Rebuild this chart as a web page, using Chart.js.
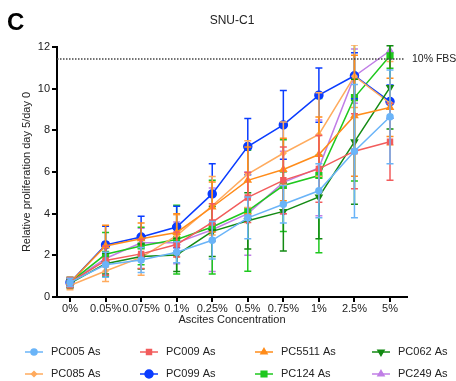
<!DOCTYPE html>
<html lang="en">
<head>
<meta charset="UTF-8">
<title>SNU-C1</title>
<style>
    * { margin: 0; padding: 0; box-sizing: border-box; }
    body { background: #fff; }
    .wrapper { position: relative; width: 456px; height: 381px; }
</style>
</head>
<body>
<div class="wrapper">
    <canvas id="chart" width="456" height="381"></canvas>
</div>

<script src="https://cdn.jsdelivr.net/npm/chart.js@4.4.1/dist/chart.umd.min.js"></script>
<script>
    // x categories
    const concentrations = ["0%", "0.05%", "0.075%", "0.1%", "0.25%", "0.5%", "0.75%", "1%", "2.5%", "5%"];
    const yTicks = [0, 2, 4, 6, 8, 10, 12];
    const fbsLevel = 11.42;

    // mean values
    const pc005 = [0.70, 1.55, 1.78, 2.15, 2.72, 3.80, 4.45, 5.10, 7.00, 8.65];
    const pc009 = [0.70, 1.75, 2.07, 2.52, 3.58, 4.78, 5.60, 6.15, 7.00, 7.45];
    const pc5511 = [0.70, 2.45, 2.80, 3.10, 4.32, 5.60, 6.12, 6.84, 8.70, 9.10];
    const pc062 = [0.65, 1.60, 1.94, 2.02, 3.15, 3.66, 4.11, 4.80, 7.45, 10.06];
    const pc085 = [0.55, 1.25, 1.90, 2.95, 4.38, 5.90, 6.90, 7.80, 10.60, 9.30];
    const pc099 = [0.70, 2.50, 2.88, 3.36, 4.95, 7.22, 8.26, 9.69, 10.62, 9.38];
    const pc124 = [0.70, 2.05, 2.45, 2.76, 3.36, 4.14, 5.35, 5.83, 9.57, 11.58];
    const pc249 = [0.70, 1.85, 2.60, 2.60, 3.23, 4.00, 5.50, 6.20, 10.60, 11.82];

    // error bar half-lengths (SD)
    const pc005Err = [0.20, 0.60, 0.60, 0.50, 0.90, 1.00, 0.90, 1.30, 3.20, 2.25];
    const pc009Err = [0.25, 0.70, 0.70, 0.60, 0.90, 1.20, 1.60, 1.60, 1.80, 1.85];
    const pc5511Err = [0.20, 1.00, 0.75, 0.90, 1.20, 1.60, 1.50, 1.80, 2.90, 1.40];
    const pc062Err = [0.20, 0.50, 0.60, 0.80, 1.20, 1.35, 1.90, 2.00, 3.00, 2.00];
    const pc085Err = [0.20, 0.50, 0.85, 1.00, 1.40, 1.60, 1.50, 2.00, 1.50, 2.00];
    const pc099Err = [0.20, 0.90, 1.00, 1.00, 1.45, 1.35, 1.65, 1.30, 1.10, 0.80];
    const pc124Err = [0.25, 1.05, 0.90, 1.65, 2.25, 2.90, 2.20, 3.70, 4.00, 0.60];
    const pc249Err = [0.20, 0.80, 0.70, 1.00, 2.00, 2.00, 1.50, 2.30, 1.30, 0.40];

    const series = [
        { label: "PC005 As", values: pc005, errors: pc005Err, color: "#6ab4f8", style: "circle", radius: 3 },
        { label: "PC009 As", values: pc009, errors: pc009Err, color: "#f25c5c", style: "rect", radius: 3.5 },
        { label: "PC5511 As", values: pc5511, errors: pc5511Err, color: "#ff8c1a", style: "triangle", radius: 3.5 },
        { label: "PC062 As", values: pc062, errors: pc062Err, color: "#138a13", style: "triangle", radius: 3.5, rotation: 180 },
        { label: "PC085 As", values: pc085, errors: pc085Err, color: "#ffab5e", style: "rectRot", radius: 2.5 },
        { label: "PC099 As", values: pc099, errors: pc099Err, color: "#0a3cff", style: "circle", radius: 4 },
        { label: "PC124 As", values: pc124, errors: pc124Err, color: "#1ec81e", style: "rect", radius: 4 },
        { label: "PC249 As", values: pc249, errors: pc249Err, color: "#c07ee6", style: "triangle", radius: 3.5 }
    ];

    const FONT = '"Liberation Sans", Arial, sans-serif';

    // draws the SD bars of each dataset just before its line
    const errorBars = {
        id: "errorBars",
        beforeDatasetDraw(chart, args) {
            const ds = chart.data.datasets[args.index];
            const y = chart.scales.y;
            const area = chart.chartArea;
            const ctx = chart.ctx;
            ctx.save();
            ctx.beginPath();
            ctx.rect(area.left, area.top - 2, area.right - area.left, area.bottom - area.top + 2);
            ctx.clip();
            ctx.strokeStyle = ds.borderColor;
            ctx.lineWidth = 1.5;
            args.meta.data.forEach((pt, i) => {
                const v = ds.data[i].y, e = ds.errors[i];
                const top = y.getPixelForValue(v + e), bot = y.getPixelForValue(v - e);
                ctx.beginPath();
                ctx.moveTo(pt.x, top); ctx.lineTo(pt.x, bot);
                ctx.moveTo(pt.x - 3.5, top); ctx.lineTo(pt.x + 3.5, top);
                ctx.moveTo(pt.x - 3.5, bot); ctx.lineTo(pt.x + 3.5, bot);
                ctx.stroke();
            });
            ctx.restore();
        }
    };

    // panel letter, title, reference line and the legend
    const extras = {
        id: "extras",
        afterDraw(chart) {
            const ctx = chart.ctx;
            const area = chart.chartArea;
            const yPix = chart.scales.y.getPixelForValue(fbsLevel);
            ctx.save();

            ctx.fillStyle = "#000";
            ctx.font = "bold 24px " + FONT;
            ctx.textBaseline = "alphabetic";
            ctx.fillText("C", 7, 30);

            ctx.font = "12px " + FONT;
            ctx.textAlign = "center";
            ctx.textBaseline = "middle";
            ctx.fillStyle = "#222";
            ctx.fillText("SNU-C1", 232, 21);

            ctx.strokeStyle = "#444";
            ctx.lineWidth = 1.5;
            ctx.setLineDash([1.5, 1.5]);
            ctx.beginPath();
            ctx.moveTo(area.left, yPix);
            ctx.lineTo(404, yPix);
            ctx.stroke();
            ctx.setLineDash([]);

            ctx.font = "10.5px " + FONT;
            ctx.textAlign = "left";
            ctx.fillText("10% FBS", 412, yPix);

            ctx.font = "11px " + FONT;
            const colX = [25, 140, 255, 372];
            const rowY = [352, 374];
            chart.data.datasets.forEach((ds, i) => {
                const x = colX[i % 4], y = rowY[Math.floor(i / 4)];
                ctx.strokeStyle = ds.borderColor;
                ctx.fillStyle = ds.borderColor;
                ctx.lineWidth = 1.5;
                ctx.beginPath();
                ctx.moveTo(x, y);
                ctx.lineTo(x + 18, y);
                ctx.stroke();
                Chart.helpers.drawPoint(ctx, {
                    pointStyle: ds.pointStyle,
                    radius: ds.pointRadius,
                    rotation: ds.pointRotation || 0,
                    borderWidth: 1
                }, x + 9, y);
                ctx.fillStyle = "#222";
                ctx.fillText(ds.label, x + 26, y);
            });
            ctx.restore();
        }
    };

    const datasets = series.map(s => ({
        label: s.label,
        data: s.values.map((v, i) => ({ x: i, y: v })),
        errors: s.errors,
        borderColor: s.color,
        backgroundColor: s.color,
        pointBackgroundColor: s.color,
        pointBorderColor: s.color,
        pointStyle: s.style,
        pointRadius: s.radius,
        pointRotation: s.rotation || 0,
        borderWidth: 1.5,
        tension: 0,
        clip: 4
    }));

    new Chart(document.getElementById("chart"), {
        type: "line",
        data: { datasets: datasets },
        plugins: [errorBars, extras],
        options: {
            responsive: false,
            animation: false,
            layout: { padding: { top: 47, right: 49, bottom: 44, left: 0 } },
            plugins: {
                legend: { display: false },
                tooltip: { enabled: false }
            },
            scales: {
                x: {
                    type: "linear",
                    min: -0.366,
                    max: 9.478,
                    afterBuildTicks: s => { s.ticks = concentrations.map((_, i) => ({ value: i })); },
                    afterFit: s => { s.height = 40; },
                    ticks: {
                        autoSkip: false,
                        maxRotation: 0,
                        padding: 0,
                        color: "#222",
                        font: { family: FONT, size: 11 },
                        callback: v => concentrations[v]
                    },
                    grid: { drawOnChartArea: false, drawTicks: true, tickLength: 5, color: "#000", lineWidth: 2 },
                    border: { color: "#000", width: 2 },
                    title: {
                        display: true,
                        text: "Ascites Concentration",
                        color: "#222",
                        font: { family: FONT, size: 11 },
                        padding: { top: 0, bottom: 10 }
                    }
                },
                y: {
                    min: 0,
                    max: 12,
                    afterBuildTicks: s => { s.ticks = yTicks.map(v => ({ value: v })); },
                    afterFit: s => { s.width = 57; },
                    ticks: {
                        padding: 2,
                        color: "#222",
                        font: { family: FONT, size: 11 }
                    },
                    grid: { drawOnChartArea: false, drawTicks: true, tickLength: 5, color: "#000", lineWidth: 2 },
                    border: { color: "#000", width: 2 },
                    title: {
                        display: true,
                        text: "Relative proliferation day 5/day 0",
                        color: "#222",
                        font: { family: FONT, size: 11 },
                        padding: { top: 20, bottom: 0 }
                    }
                }
            }
        }
    });
</script>
</body>
</html>
